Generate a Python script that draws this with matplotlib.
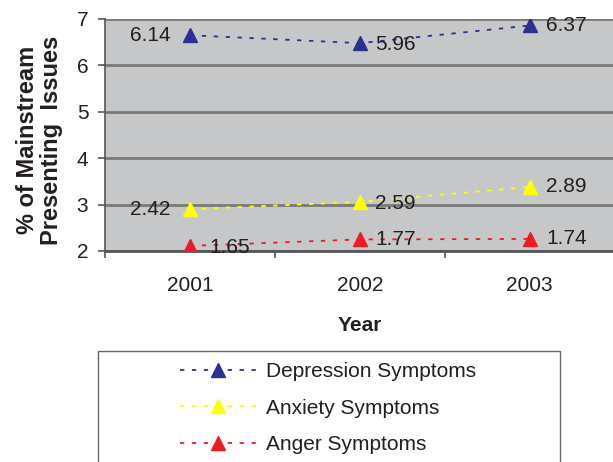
import matplotlib
matplotlib.use("Agg")
import matplotlib.pyplot as plt
from matplotlib.patches import Rectangle

plt.rcParams["font.family"] = ["Liberation Sans", "DejaVu Sans"]

YEARS = ["2001", "2002", "2003"]
SERIES = ["Depression Symptoms", "Anxiety Symptoms", "Anger Symptoms"]
COLORS = ["#2B3192", "#FFFF00", "#ED1C24"]

# marker heights as drawn in the picture
DEPRESSION = [6.65, 6.48, 6.86]
ANXIETY = [2.90, 3.06, 3.38]
ANGER = [2.11, 2.25, 2.26]

# data label texts as printed
DEPRESSION_LABELS = ["6.14", "5.96", "6.37"]
ANXIETY_LABELS = ["2.42", "2.59", "2.89"]
ANGER_LABELS = ["1.65", "1.77", "1.74"]

TEXT = "#231F20"

values = [DEPRESSION, ANXIETY, ANGER]
labels = [DEPRESSION_LABELS, ANXIETY_LABELS, ANGER_LABELS]
# label offsets from the marker, in points
offsets = [[(-14, 0), (11, -1), (12, 0)],
           [(-14, 0), (11, -1), (12, 0)],
           [(14, -1), (11, 0), (12, 0)]]

fig = plt.figure(figsize=(6.13, 4.62), dpi=100)
ax = fig.add_axes([105 / 613, 1 - 251 / 462, 1 - 105 / 613, 232 / 462])
ax.set_facecolor("#C6C7C9")

x = [1, 2, 3]
handles = []
for i in range(3):
    h, = ax.plot(x, values[i], linestyle=(0, (2.4, 4.2)), linewidth=1.3,
                 color=COLORS[i], marker="^", markersize=10,
                 markeredgecolor=COLORS[i], label=SERIES[i], zorder=3)
    handles.append(h)
    for j in range(3):
        ox, oy = offsets[i][j]
        ax.annotate(labels[i][j], (x[j], values[i][j]), xytext=(ox, oy),
                    textcoords="offset points",
                    ha="right" if ox < 0 else "left", va="center",
                    fontsize=15, color=TEXT, zorder=4)

ax.set_ylim(2, 7)
ax.set_xlim(0.5, 3.49)
ax.set_yticks([2, 3, 4, 5, 6, 7])
ax.set_xticks(x)
ax.set_xticklabels(YEARS)
ax.set_xticks([0.5, 1.5, 2.5], minor=True)
ax.tick_params(axis="x", which="major", length=0, pad=18, labelsize=15,
               labelcolor=TEXT)
ax.tick_params(axis="x", which="minor", length=5, width=1.2, color="#555555")
ax.tick_params(axis="y", length=5, width=1.2, color="#555555", labelsize=15,
               pad=7, labelcolor=TEXT)
ax.grid(axis="y", color="#7A7A7A", linewidth=2)
ax.set_axisbelow(True)
for s in ["top", "right"]:
    ax.spines[s].set_visible(False)
ax.spines["left"].set_color("#555555")
ax.spines["left"].set_linewidth(1.2)
ax.spines["bottom"].set_color("#555555")
ax.spines["bottom"].set_linewidth(2)

ax.set_xlabel("Year", fontsize=15, fontweight="bold", color=TEXT)
ax.xaxis.set_label_coords((360 - 105) / 508, -(316 - 251) / 232)
ax.set_ylabel("% of Mainstream\nPresenting  Issues", fontsize=17,
              fontweight="bold", linespacing=1.05, color=TEXT)
ax.yaxis.set_label_coords(-(105 - 63) / 508, (251 - 140) / 232)

leg = fig.legend(handles=handles, loc="upper left",
                 bbox_to_anchor=(180 / 613, 1 - 362 / 462),
                 frameon=False, fontsize=15, numpoints=1,
                 handlelength=3.65, handletextpad=0.5, labelspacing=0.85,
                 borderpad=0, borderaxespad=0)
for t in leg.get_texts():
    t.set_color(TEXT)
fig.add_artist(Rectangle((98 / 613, -0.05), (560 - 98) / 613, 0.05 + 1 - 351 / 462,
                         transform=fig.transFigure, fill=False,
                         edgecolor="#666666", linewidth=1.0))

fig.savefig("out.png", dpi=100)
